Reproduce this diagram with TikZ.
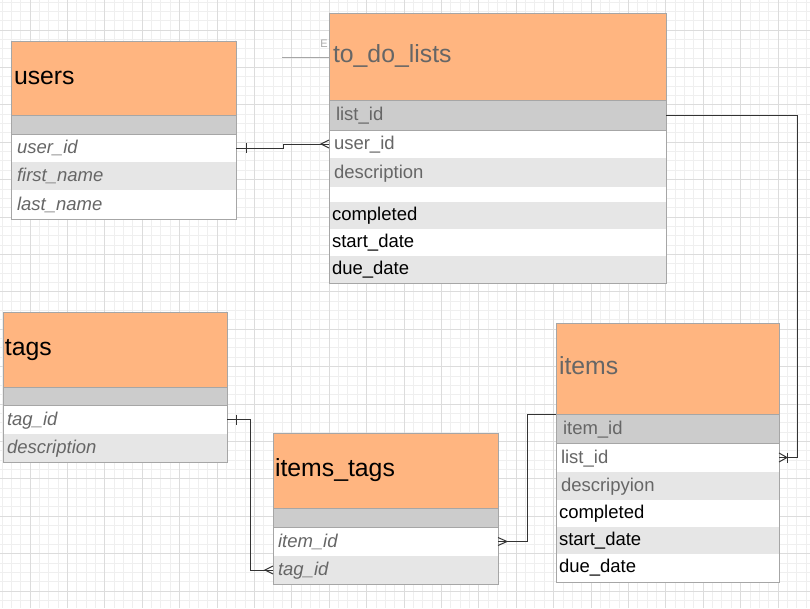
\documentclass[tikz,border=0pt]{standalone}
\usepackage{fontspec}
\setmainfont{Liberation Sans}
\definecolor{hdr}{HTML}{FFB580}
\definecolor{rowdark}{HTML}{CCCCCC}
\definecolor{rowlight}{HTML}{E6E6E6}
\definecolor{txtgray}{HTML}{666666}
\definecolor{bordergray}{HTML}{A6A6A6}
\definecolor{gridminor}{HTML}{EFEFEF}
\definecolor{gridmajor}{HTML}{DCDCDC}
\definecolor{linkcol}{HTML}{333333}
\newcommand\hfnt{\fontsize{24.8}{28}\selectfont}
\newcommand\ffnt{\fontsize{18.5}{22}\selectfont}
\tikzset{
  cell/.style={rectangle, anchor=north west, inner ysep=0pt, outer sep=0pt, align=left, font=\ffnt, text height=14pt, text depth=3pt},
  head/.style={cell, fill=hdr, font=\hfnt, text height=17pt, text depth=5pt},
  keyrow/.style={cell, fill=rowdark, text height=0pt, text depth=0pt},
  blankrow/.style={cell, fill=white, text height=0pt, text depth=0pt},
  plainrow/.style={cell, text height=12pt, text depth=3pt},
  grayfld/.style={text=txtgray},
  link/.style={draw=linkcol, line width=1pt},
  frame/.style={draw=bordergray, line width=1pt},
}
\begin{document}
\begin{tikzpicture}[x=1pt,y=-1pt]
\useasboundingbox (0,0) rectangle (810,608);
% grid
\foreach \k in {-3,...,83} \draw[gridminor, line width=0.9pt] ({30+9.35*\k},0) -- ({30+9.35*\k},608);
\foreach \k in {-3,...,61} \draw[gridminor, line width=0.9pt] (0,{30+9.35*\k}) -- (810,{30+9.35*\k});
\foreach \k in {-1,...,20} \draw[gridmajor, line width=1pt] ({30+37.4*\k},0) -- ({30+37.4*\k},608);
\foreach \k in {-1,...,15} \draw[gridmajor, line width=1pt] (0,{30+37.4*\k}) -- (810,{30+37.4*\k});

% users
\node[head, minimum height=74pt, inner xsep=3pt, text width=219pt] (u-head) at (11,41) {users};
\node[keyrow, minimum height=19pt, inner xsep=6pt, text width=213pt] (u-key) at (11,115) {};
\node[cell, fill=white, minimum height=28pt, inner xsep=6pt, text width=213pt, grayfld] (u-uid) at (11,134) {\itshape user\_id};
\node[cell, fill=rowlight, minimum height=28pt, inner xsep=6pt, text width=213pt, grayfld] (u-first) at (11,162) {\itshape first\_name};
\node[cell, fill=white, minimum height=29pt, inner xsep=6pt, text width=213pt, grayfld] (u-last) at (11,190) {\itshape last\_name};
\draw[frame] (u-head.south west) -- (u-head.south east);
\draw[frame] (u-key.south west) -- (u-key.south east);
\draw[frame] (u-head.north west) rectangle (u-last.south east);

% to_do_lists
\node[head, minimum height=87pt, inner xsep=4pt, text width=329pt, grayfld] (t-head) at (329,13) {to\_do\_lists};
\node[cell, fill=rowdark, minimum height=30pt, inner xsep=7pt, text width=323pt, grayfld] (t-lid) at (329,100) {list\_id};
\node[cell, fill=white, minimum height=28pt, inner xsep=5pt, text width=327pt, grayfld] (t-uid) at (329,130) {user\_id};
\node[cell, fill=rowlight, minimum height=29pt, inner xsep=5pt, text width=327pt, grayfld] (t-desc) at (329,158) {description};
\node[blankrow, minimum height=15pt, inner xsep=5pt, text width=327pt] (t-blank) at (329,187) {};
\node[plainrow, fill=rowlight, minimum height=27pt, inner xsep=3pt, text width=331pt] (t-comp) at (329,202) {completed};
\node[plainrow, fill=white, minimum height=27pt, inner xsep=3pt, text width=331pt] (t-start) at (329,229) {start\_date};
\node[plainrow, fill=rowlight, minimum height=27pt, inner xsep=3pt, text width=331pt] (t-due) at (329,256) {due\_date};
\draw[frame] (t-head.south west) -- (t-head.south east);
\draw[frame] (t-lid.south west) -- (t-lid.south east);
\draw[frame] (t-head.north west) rectangle (t-due.south east);

% tags
\node[head, minimum height=75pt, inner xsep=2pt, text width=220pt] (g-head) at (3,312) {tags};
\node[keyrow, minimum height=18pt, inner xsep=4pt, text width=216pt] (g-key) at (3,387) {};
\node[cell, fill=white, minimum height=29pt, inner xsep=4pt, text width=216pt, grayfld] (g-tid) at (3,405) {\itshape tag\_id};
\node[cell, fill=rowlight, minimum height=28pt, inner xsep=4pt, text width=216pt, grayfld] (g-desc) at (3,434) {\itshape description};
\draw[frame] (g-head.south west) -- (g-head.south east);
\draw[frame] (g-key.south west) -- (g-key.south east);
\draw[frame] (g-head.north west) rectangle (g-desc.south east);

% items_tags
\node[head, minimum height=75pt, inner xsep=2pt, text width=221pt] (it-head) at (273,433) {items\_tags};
\node[keyrow, minimum height=19pt, inner xsep=5pt, text width=215pt] (it-key) at (273,508) {};
\node[cell, fill=white, minimum height=29pt, inner xsep=5pt, text width=215pt, grayfld] (it-iid) at (273,527) {\itshape item\_id};
\node[cell, fill=rowlight, minimum height=28pt, inner xsep=5pt, text width=215pt, grayfld] (it-tid) at (273,556) {\itshape tag\_id};
\draw[frame] (it-head.south west) -- (it-head.south east);
\draw[frame] (it-key.south west) -- (it-key.south east);
\draw[frame] (it-head.north west) rectangle (it-tid.south east);

% items
\node[head, minimum height=91pt, inner xsep=3pt, text width=217pt, grayfld] (i-head) at (556,323) {items};
\node[cell, fill=rowdark, minimum height=29pt, inner xsep=7pt, text width=209pt, grayfld] (i-iid) at (556,414) {item\_id};
\node[cell, fill=white, minimum height=29pt, inner xsep=5pt, text width=213pt, grayfld] (i-lid) at (556,443) {list\_id};
\node[cell, fill=rowlight, minimum height=28pt, inner xsep=5pt, text width=213pt, grayfld] (i-desc) at (556,472) {descripyion};
\node[plainrow, fill=white, minimum height=27pt, inner xsep=3pt, text width=217pt] (i-comp) at (556,500) {completed};
\node[plainrow, fill=rowlight, minimum height=27pt, inner xsep=3pt, text width=217pt] (i-start) at (556,527) {start\_date};
\node[plainrow, fill=white, minimum height=28pt, inner xsep=3pt, text width=217pt] (i-due) at (556,554) {due\_date};
\draw[frame] (i-head.south west) -- (i-head.south east);
\draw[frame] (i-iid.south west) -- (i-iid.south east);
\draw[frame] (i-head.north west) rectangle (i-due.south east);

% stray stub near to_do_lists
\coordinate (stub) at (282,57);
\draw[draw=bordergray, line width=1pt] (stub) -- (stub -| t-head.west);
\node[font=\fontsize{11}{12}\selectfont, text=bordergray, inner sep=0pt] (emark) at (324,44) {E};

% connectors
\draw[link] (u-uid.east) -- ++(47,0) |- (t-uid.west);
\draw[link] ([shift={(10,-5)}]u-uid.east) -- ([shift={(10,5)}]u-uid.east);
\draw[link] ([shift={(0,-4)}]t-uid.west) -- ([shift={(-8,0)}]t-uid.west) -- ([shift={(0,4)}]t-uid.west);

\draw[link] (t-lid.east) -- ++(131,0) |- (i-lid.east);
\draw[link] ([shift={(0,-4.5)}]i-lid.east) -- ([shift={(8,0)}]i-lid.east) -- ([shift={(0,4.5)}]i-lid.east);
\draw[link] ([shift={(8,-5)}]i-lid.east) -- ([shift={(8,5)}]i-lid.east);

\draw[link] (g-tid.east) -- ++(23,0) |- (it-tid.west);
\draw[link] ([shift={(9,-5)}]g-tid.east) -- ([shift={(9,5)}]g-tid.east);
\draw[link] ([shift={(0,-4)}]it-tid.west) -- ([shift={(-8,0)}]it-tid.west) -- ([shift={(0,4)}]it-tid.west);

\draw[link] (it-iid.east) -- ++(29,0) |- (i-head.south west);
\draw[link] ([shift={(0,-4)}]it-iid.east) -- ([shift={(9,0)}]it-iid.east) -- ([shift={(0,4)}]it-iid.east);
\end{tikzpicture}
\end{document}
